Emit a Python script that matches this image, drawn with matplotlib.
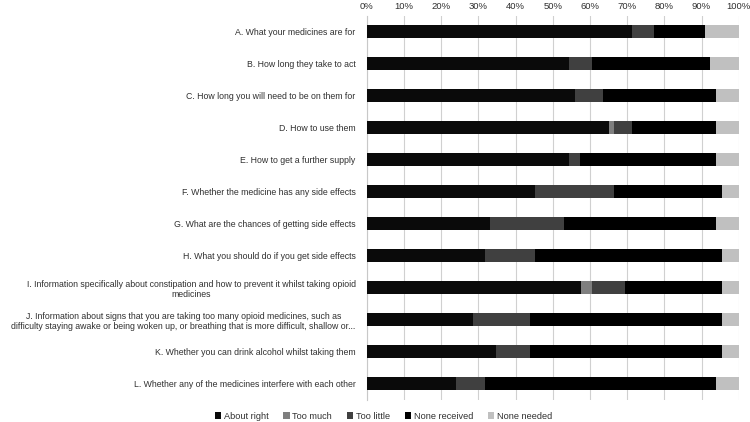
import numpy as np
import matplotlib
matplotlib.use("Agg")
import matplotlib.pyplot as plt
from matplotlib.ticker import PercentFormatter

# survey items, top to bottom
labels = [
    "A. What your medicines are for",
    "B. How long they take to act",
    "C. How long you will need to be on them for",
    "D. How to use them",
    "E. How to get a further supply",
    "F. Whether the medicine has any side effects",
    "G. What are the chances of getting side effects",
    "H. What you should do if you get side effects",
    "I. Information specifically about constipation and how to prevent it whilst taking opioid\nmedicines",
    "J. Information about signs that you are taking too many opioid medicines, such as\ndifficulty staying awake or being woken up, or breathing that is more difficult, shallow or...",
    "K. Whether you can drink alcohol whilst taking them",
    "L. Whether any of the medicines interfere with each other",
]

series_names = ["About right", "Too much", "Too little", "None received", "None needed"]
about_right = [71.2, 54.3, 55.9, 65.0, 54.3, 45.3, 33.1, 31.7, 57.5, 28.6, 34.7, 24.0]
too_much = [0.0, 0.0, 0.0, 1.4, 0.0, 0.0, 0.0, 0.0, 3.1, 0.0, 0.0, 0.0]
too_little = [6.0, 6.2, 7.5, 4.8, 3.1, 21.1, 19.8, 13.6, 8.9, 15.2, 9.1, 7.7]
none_received = [13.6, 31.9, 30.4, 22.6, 36.4, 29.0, 40.9, 50.1, 25.9, 51.6, 51.6, 62.1]
none_needed = [9.2, 7.6, 6.2, 6.2, 6.2, 4.6, 6.2, 4.6, 4.6, 4.6, 4.6, 6.2]

colors = ["#0a0a0a", "#7f7f7f", "#404040", "#000000", "#c0c0c0"]
text_col = "#303030"

plt.rcParams["font.family"] = ["Liberation Sans", "DejaVu Sans"]

fig = plt.figure(figsize=(7.5, 4.22), dpi=100)
ax = fig.add_axes([0.489, 0.053, 0.496, 0.91])

y = np.arange(len(labels))
left = np.zeros(len(labels))
for name, vals, c in zip(series_names,
                         [about_right, too_much, too_little, none_received, none_needed],
                         colors):
    vals = np.array(vals)
    ax.barh(y, vals, left=left, height=0.42, color=c, label=name, zorder=3)
    left += vals

ax.set_xlim(0, 100)
ax.set_ylim(len(labels) - 0.5, -0.5)
ax.xaxis.set_major_locator(plt.MultipleLocator(10))
ax.xaxis.set_major_formatter(PercentFormatter(decimals=0))
ax.xaxis.tick_top()
ax.tick_params(axis="x", length=0, labelsize=6.8, pad=3, labelcolor=text_col)
ax.tick_params(axis="y", length=0, labelsize=6.3, pad=8, labelcolor=text_col)
ax.set_yticks(y)
ax.set_yticklabels(labels, multialignment="center")
ax.grid(axis="x", color="#d0d0d0", linewidth=0.8, zorder=0)
for s in ["top", "bottom", "right"]:
    ax.spines[s].set_visible(False)
ax.spines["left"].set_color("#c8c8c8")

leg = ax.legend(loc="upper center", bbox_to_anchor=(0.045, -0.01), ncol=5, frameon=False,
                fontsize=6.6, handlelength=0.7, handleheight=0.7, handletextpad=0.3,
                columnspacing=1.6)
for t in leg.get_texts():
    t.set_color(text_col)

fig.savefig("out.png", dpi=100)
